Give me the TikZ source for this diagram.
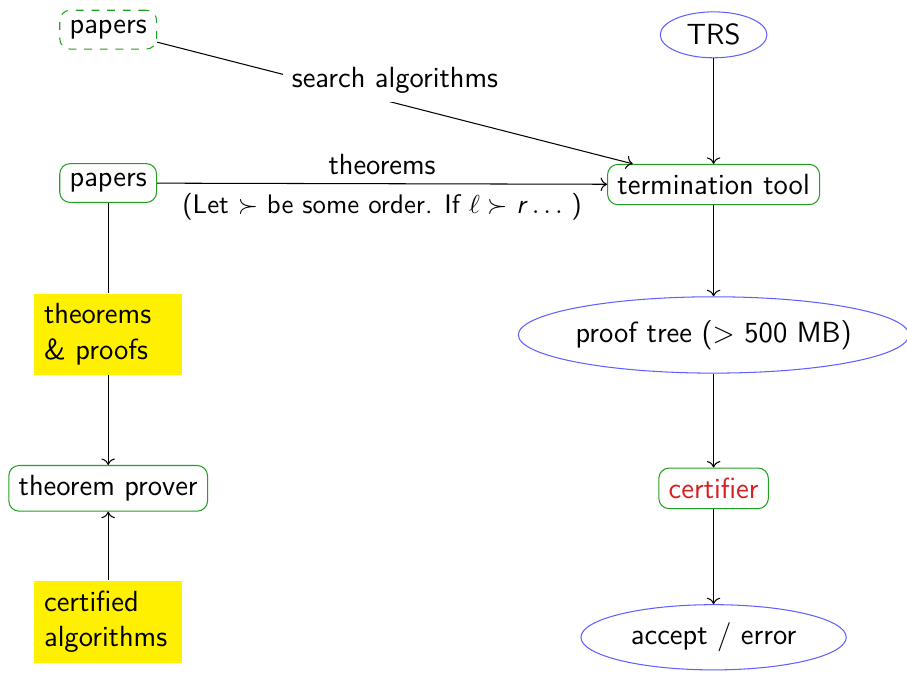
\documentclass[tikz,border=0pt]{standalone}
\usepackage{amsmath,amssymb}
\usepackage{tikz}
\usetikzlibrary{arrows.meta,shapes.geometric}
\definecolor{boxgreen}{HTML}{22A022}
\definecolor{ovalblue}{HTML}{6060FF}
\definecolor{certred}{HTML}{D42020}
\definecolor{hlyellow}{HTML}{FFF000}
\tikzset{
  toolbox/.style={draw=boxgreen,fill=white,rounded corners=4pt,inner sep=3.8pt},
  sourcebox/.style={toolbox,dashed},
  dataoval/.style={ellipse,draw=ovalblue,fill=white,inner sep=0pt},
  notebox/.style={fill=hlyellow,text width=1.73cm,align=left,inner sep=3.8pt},
  flow/.style={-{To}}
}
\begin{document}
\begin{tikzpicture}[x=1cm,y=1cm,font=\sffamily\fontsize{11.2}{13.6}\selectfont]
    \path[use as bounding box] (-6.12,-4.54) rectangle (6.12,4.54);
    % left column: where the theory comes from
    \node[sourcebox] (srcpapers) at (-4.66,4.14) {papers};
    \node[toolbox] (papers) at (-4.66,2.07) {papers};
    \node[notebox] (thmproofs) at (-4.66,0.03) {theorems\\ \& proofs};
    \node[toolbox] (prover) at (-4.66,-2.05) {theorem prover};
    \node[notebox] (certalg) at (-4.66,-3.85) {certified\\ algorithms};
    % right column: the tool chain
    \node[dataoval,minimum width=1.44cm,minimum height=0.62cm] (trs) at (3.51,4.07) {TRS};
    \node[toolbox] (tool) at (3.51,2.05) {termination tool};
    \node[dataoval,minimum width=5.13cm,minimum height=1.03cm] (prooftree) at (3.51,0.02)
      {proof tree ($>$ 500 MB)};
    \node[toolbox,text=certred] (certifier) at (3.51,-2.05) {certifier};
    \node[dataoval,minimum width=3.58cm,minimum height=0.88cm] (verdict) at (3.51,-4.06)
      {accept / error};

    \draw[flow] (srcpapers) -- node[above,fill=white] {search algorithms} (tool);
    \draw[flow] (papers) -- node[above] {theorems}
      node[below,font=\sffamily\fontsize{10.3}{12}\selectfont]
      {(Let $\succ$ be some order. If $\ell \succ$ \textit{r}\,$\ldots$\ )} (tool);
    \draw (papers) -- (thmproofs);
    \draw[flow] (thmproofs) -- (prover);
    \draw[flow] (certalg) -- (prover);
    \draw[flow] (trs) -- (tool);
    \draw[flow] (tool) -- (prooftree);
    \draw[flow] (prooftree) -- (certifier);
    \draw[flow] (certifier) -- (verdict);
  \end{tikzpicture}
\end{document}
